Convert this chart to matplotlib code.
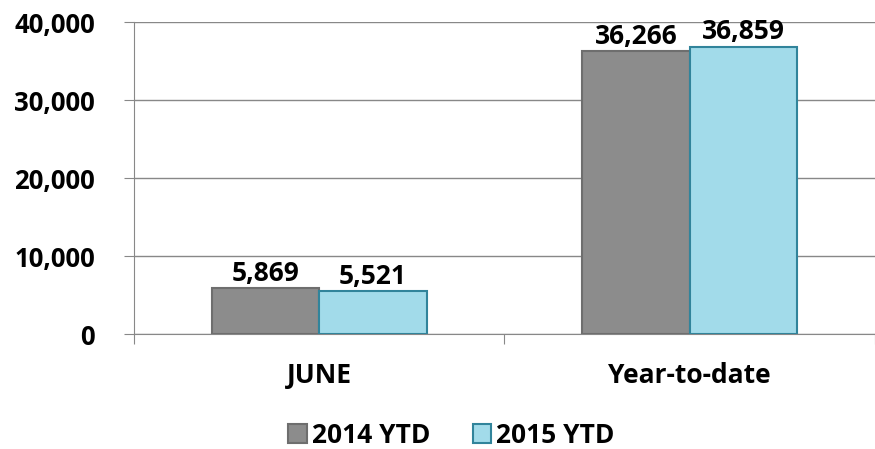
import matplotlib.pyplot as plt
import numpy as np

categories = ["JUNE", "Year-to-date"]
series_names = ["2014 YTD", "2015 YTD"]
values_2014 = [5869, 36266]
values_2015 = [5521, 36859]

plt.rcParams['font.family'] = ['Open Sans', 'DejaVu Sans']
plt.rcParams['font.weight'] = 'bold'

fig = plt.figure(figsize=(8.75, 4.49), dpi=100)
ax = fig.add_axes([0.153, 0.256, 0.847, 0.695])

x = np.arange(len(categories))
w = 0.29
b1 = ax.bar(x - w / 2, values_2014, w, color="#8c8c8c", edgecolor="#6e6e6e", linewidth=1.5, label=series_names[0], zorder=3)
b2 = ax.bar(x + w / 2, values_2015, w, color="#a2dbea", edgecolor="#31849b", linewidth=1.5, label=series_names[1], zorder=3)

for bars in (b1, b2):
	for r in bars:
		ax.text(r.get_x() + r.get_width() / 2, r.get_height() + 150, f"{int(r.get_height()):,}",
			ha="center", va="bottom", fontsize=19, fontweight="bold")

ax.set_xlim(-0.5, 1.5)
ax.set_ylim(0, 40000)
ax.set_yticks(range(0, 40001, 10000))
ax.set_yticklabels([f"{v:,}" for v in range(0, 40001, 10000)], fontsize=18.5, fontweight="bold")
ax.set_xticks([-0.5, 0.5, 1.5])
ax.set_xticklabels([])
ax.set_xticks(x, minor=True)
ax.set_xticklabels(categories, minor=True, fontsize=19, fontweight="bold")
ax.tick_params(axis="x", which="minor", length=0, pad=20)
ax.tick_params(axis="x", which="major", length=7, color="#888888")
ax.tick_params(axis="y", length=7, color="#888888", pad=21)

ax.grid(axis="y", color="#888888", linewidth=1, zorder=0)
for s in ["top", "right"]:
	ax.spines[s].set_visible(False)
ax.spines["left"].set_color("#888888")
ax.spines["bottom"].set_color("#888888")

fig.legend(handles=[b1, b2], loc="center", bbox_to_anchor=(0.516, 0.031), ncol=2, frameon=False,
	prop={"weight": "bold", "size": 19}, handlelength=0.7, handleheight=0.7, columnspacing=1.6, handletextpad=0.2)

fig.savefig("out.png", dpi=100)
